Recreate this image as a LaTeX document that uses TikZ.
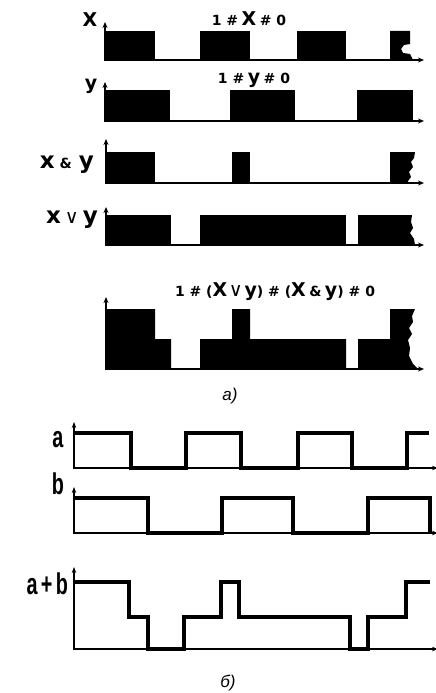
\documentclass[tikz,border=0pt]{standalone}
\usepackage{fontspec}
\setmainfont{Liberation Sans}
\newfontfamily\wide{DejaVu Sans}
\usetikzlibrary{arrows.meta}

\newcommand\smallpart[1]{{\fontsize{14}{14}\selectfont #1}}
\newcommand\bigpart[1]{{\fontsize{19}{19}\selectfont #1}}
\newcommand\hugepart[1]{{\fontsize{23}{23}\selectfont #1}}
\newcommand\orsign{{\mdseries\fontsize{19}{19}\selectfont ∨}}

\begin{document}
\begin{tikzpicture}[x=1pt,y=-1pt,
  axis/.style={line width=1.8pt,-{Stealth[length=6pt,width=5pt]}},
  thinaxis/.style={line width=1.4pt,-{Stealth[length=6pt,width=4.5pt]}},
  trace/.style={line width=3.4pt,line join=miter,line cap=butt},
  lbl/.style={inner sep=0pt,font=\wide\bfseries\fontsize{19}{19}\selectfont},
  title/.style={inner sep=0pt,font=\wide\bfseries},
  captext/.style={inner sep=0pt,font=\itshape\fontsize{17}{17}\selectfont},
  narrow/.style={inner sep=0pt,xscale=0.66,font=\bfseries\fontsize{30}{30}\selectfont}]
\useasboundingbox (0,0) rectangle (436,693);

% ---------- part a): filled pulse trains ----------
% x
\fill (105,60) rectangle (155,31);
\fill (200,60) rectangle (250,31);
\fill (297,60) rectangle (346,31);
\fill (390,60) -- (390,31) -- (410,31) -- (410,44) -- (404,45) -- (401,49)
      -- (403,53) -- (410,54) -- (413,60) -- cycle;
\draw[axis] (105,61) -- (105,22);
\draw[axis] (104,60) -- (424,60);
\node[lbl,anchor=base] (lx) at (90,27) {X};
\node[title,anchor=base] (tx) at (249,26)
  {\smallpart{1 \#} \bigpart{X} \smallpart{\# 0}};

% y
\fill (105,121) rectangle (170,90);
\fill (230,121) rectangle (295,90);
\fill (357,121) rectangle (413,90);
\draw[axis] (105,122) -- (105,82);
\draw[axis] (104,121) -- (424,121);
\node[title,anchor=base] (ly) at (91,89) {\bigpart{y}};
\node[title,anchor=base] (ty) at (254,83)
  {\smallpart{1 \#} \bigpart{y} \smallpart{\# 0}};

% x & y
\fill (106,183) rectangle (155,152);
\fill (232,183) rectangle (250,152);
\fill (390,183) -- (390,152) -- (415,152) -- (414,158) -- (411,162) -- (413,167)
      -- (409,172) -- (411,177) -- (408,181) -- (408,183) -- cycle;
\draw[axis] (106,184) -- (106,139);
\draw[axis] (105,183) -- (424,183);
\node[title,anchor=base east] (lxy) at (94,168)
  {\hugepart{x}\hspace{5pt}\smallpart{\&}\hspace{7pt}\hugepart{y}};

% x v y
\fill (106,245) rectangle (171,215);
\fill (200,245) rectangle (346,215);
\fill (358,245) -- (358,215) -- (412,215) -- (411,222) -- (413,228) -- (410,233)
      -- (414,239) -- (415,245) -- cycle;
\draw[axis] (106,246) -- (106,207);
\draw[axis] (105,245) -- (424,245);
\node[title,anchor=base east] (lor) at (98,223)
  {\hugepart{x}\hspace{4pt}\orsign\hspace{4pt}\hugepart{y}};

% three-level result
\fill (106,369) -- (106,309) -- (155,309) -- (155,339) -- (171,339) -- (171,369)
      -- (200,369) -- (200,339) -- (232,339) -- (232,309) -- (250,309) -- (250,339)
      -- (346,339) -- (346,369) -- (358,369) -- (358,339) -- (390,339) -- (390,309)
      -- (415,309) -- (412,316) -- (413,322) -- (409,328) -- (412,334) -- (408,340)
      -- (410,348) -- (409,356) -- (413,364) -- (418,369) -- cycle;
\draw[axis] (106,370) -- (106,297);
\draw[axis] (105,369) -- (424,369);
\node[title,anchor=base] (tsum) at (275,296)
  {\smallpart{1 \# (}\bigpart{X}\,\orsign\,\bigpart{y}\smallpart{) \# (}\bigpart{X} \smallpart{\&} \bigpart{y}\smallpart{) \# 0}};

\node[captext] (capa) at (230,396) {a)};

% ---------- part б): line traces ----------
% a
\draw[thinaxis] (74,469) -- (74,422);
\draw[thinaxis] (73,468) -- (438,468);
\draw[trace] (74,433) -- (131,433) -- (131,468) -- (186,468) -- (186,433)
  -- (241,433) -- (241,468) -- (298,468) -- (298,433) -- (352,433) -- (352,468)
  -- (407,468) -- (407,433) -- (429,433);
\node[narrow,anchor=base] (la) at (58,447) {a};

% b
\draw[thinaxis] (74,534) -- (74,487);
\draw[thinaxis] (73,533) -- (438,533);
\draw[trace] (74,498) -- (148,498) -- (148,533) -- (222,533) -- (222,498)
  -- (293,498) -- (293,533) -- (368,533) -- (368,498) -- (430,498) -- (430,533);
\node[narrow,anchor=base] (lb) at (58,494) {b};

% a + b
\draw[thinaxis] (74,650) -- (74,567);
\draw[thinaxis] (73,649) -- (438,649);
\draw[trace] (74,582) -- (129,582) -- (129,617) -- (148,617) -- (148,649)
  -- (184,649) -- (184,617) -- (221,617) -- (221,582) -- (239,582) -- (239,617)
  -- (350,617) -- (350,649) -- (368,649) -- (368,617) -- (406,617) -- (406,582)
  -- (430,582);
\node[narrow,anchor=base east] (lab) at (68,594) {a\,+\,b};

\node[captext] (capb) at (228,683) {б)};
\end{tikzpicture}
\end{document}
